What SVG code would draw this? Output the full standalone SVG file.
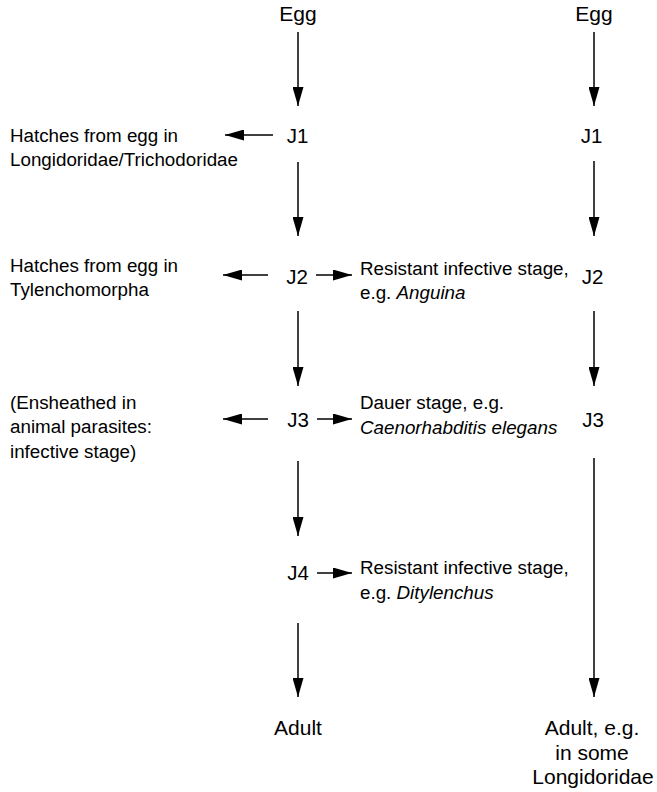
<svg xmlns="http://www.w3.org/2000/svg" width="657" height="792" viewBox="0 0 657 792">
<style>
text { font-family: "Liberation Sans", Arial, sans-serif; fill: #000; }
.node { font-size: 20.5px; text-anchor: middle; }
.big { font-size: 21px; }
.ann { font-size: 18.8px; }
.it { font-style: italic; }
.conn line { stroke: #000; stroke-width: 1.5; marker-end: url(#ah); }
</style>
<defs>
<marker id="ah" markerUnits="userSpaceOnUse" markerWidth="19" markerHeight="11" refX="19" refY="5.5" orient="auto">
<path d="M0,0 L19,5.5 L0,11 z" fill="#000"/>
</marker>
</defs>
<rect width="657" height="792" fill="#fff"/>
<g id="connectors" class="conn">
<line x1="298" y1="32" x2="298" y2="106"/>
<line x1="298" y1="162" x2="298" y2="236"/>
<line x1="298" y1="311" x2="298" y2="386"/>
<line x1="298" y1="461" x2="298" y2="536"/>
<line x1="298" y1="623" x2="298" y2="697"/>
<line x1="594" y1="32" x2="594" y2="106"/>
<line x1="594" y1="161" x2="594" y2="236"/>
<line x1="594" y1="311" x2="594" y2="386"/>
<line x1="594" y1="458" x2="594" y2="697"/>
<line x1="273" y1="135" x2="225" y2="135"/>
<line x1="268" y1="275" x2="223" y2="275"/>
<line x1="316" y1="275" x2="352" y2="275"/>
<line x1="268" y1="419" x2="223" y2="419"/>
<line x1="317" y1="419" x2="352" y2="419"/>
<line x1="317" y1="573" x2="352" y2="573"/>
</g>
<g id="egg-left"><text class="node big" x="298" y="21">Egg</text></g>
<g id="j1-left"><text class="node" x="297.5" y="143">J1</text></g>
<g id="j2-left"><text class="node" x="297" y="284">J2</text></g>
<g id="j3-left"><text class="node" x="298" y="427">J3</text></g>
<g id="j4-left"><text class="node" x="298" y="580">J4</text></g>
<g id="adult-left"><text class="node big" x="298" y="735">Adult</text></g>
<g id="egg-right"><text class="node big" x="594" y="21">Egg</text></g>
<g id="j1-right"><text class="node" x="591.5" y="143">J1</text></g>
<g id="j2-right"><text class="node" x="592.5" y="284">J2</text></g>
<g id="j3-right"><text class="node" x="593" y="427">J3</text></g>
<g id="adult-right">
<text class="node big" x="592" y="735">Adult, e.g.</text>
<text class="node big" x="592" y="760">in some</text>
<text class="node big" x="593" y="784">Longidoridae</text>
</g>
<g id="note-j1-left">
<text class="ann" x="10" y="142">Hatches from egg in</text>
<text class="ann" x="10" y="166">Longidoridae/Trichodoridae</text>
</g>
<g id="note-j2-left">
<text class="ann" x="10" y="272">Hatches from egg in</text>
<text class="ann" x="10" y="296">Tylenchomorpha</text>
</g>
<g id="note-j3-left">
<text class="ann" x="10" y="409">(Ensheathed in</text>
<text class="ann" x="10" y="433">animal parasites:</text>
<text class="ann" x="10" y="458">infective stage)</text>
</g>
<g id="note-j2-right">
<text class="ann" x="360" y="275">Resistant infective stage,</text>
<text class="ann" x="360" y="299">e.g. <tspan class="it">Anguina</tspan></text>
</g>
<g id="note-j3-right">
<text class="ann" x="360" y="409">Dauer stage, e.g.</text>
<text class="ann it" x="360" y="434">Caenorhabditis elegans</text>
</g>
<g id="note-j4-right">
<text class="ann" x="360" y="574">Resistant infective stage,</text>
<text class="ann" x="360" y="599">e.g. <tspan class="it">Ditylenchus</tspan></text>
</g>
</svg>
